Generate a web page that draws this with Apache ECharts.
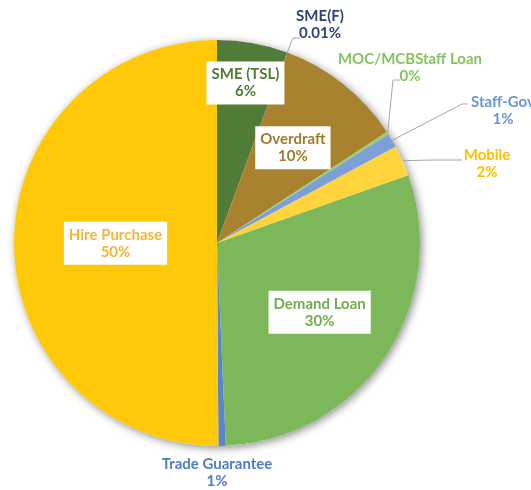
<!DOCTYPE html>
<html><head><meta charset="utf-8">
<script src="https://cdn.jsdelivr.net/npm/echarts@6/dist/echarts.min.js"></script>
<style>html,body{margin:0;padding:0;background:#fff}#c{width:531px;height:490px}</style>
</head><body><div id="c"></div>
<script>
// ---- data (clockwise from 12 o'clock) ----
const categories = ['SME (TSL)', 'SME(F)', 'Overdraft', 'MOC/MCBStaff Loan', 'Staff-Gov', 'Mobile', 'Demand Loan', 'Trade Guarantee', 'Hire Purchase'];
const shares = [5.61, 0.01, 10.17, 0.2, 1.14, 2.45, 29.72, 0.58, 50.1];

// ---- style ----
const sliceColors = ['#507C37', '#2F4B7C', '#A8822F', '#98CC70', '#7D9FD7', '#FFD43C', '#7CB85A', '#5A86C8', '#FFC90A'];
const textColors  = ['#4F7B35', '#2F4479', '#A07A2D', '#86C35E', '#6A95D8', '#FFC000', '#70AE4C', '#4F7CC8', '#F5B53A'];
const isInside    = [true, false, true, false, false, false, true, false, true];
const insideFrac  = [0.80, 0, 0.60, 0, 0, 0, 0.61, 0, 0.50];
// outside label centres and leader-line elbow/end points (layout only)
const outsideLayout = {
  1: { pos: [320, 25], line: [[293, 38], [300, 38]] },
  3: { pos: [410, 68], line: [[393, 80], [400, 80]] },
  4: { pos: [503, 111], line: [[462, 104], [468, 104]] },
  5: { pos: [487, 164], line: [[432, 160], [462, 160]] },
  7: { pos: [217, 473], line: null }
};
const CX = 217, CY = 243, R = 203;
const FONT = 'Lato';

const total = shares.reduce((a, b) => a + b, 0);
const midAngles = [];
let acc = 0;
shares.forEach(v => { midAngles.push((acc + v / 2) / total * 2 * Math.PI); acc += v; });
const pctText = v => (v < 0.1 ? v.toFixed(2) : String(Math.round(v))) + '%';

const data = categories.map((name, i) => {
  const inside = isInside[i];
  return {
    name, value: shares[i],
    itemStyle: { color: sliceColors[i] },
    label: inside ? {
      position: 'inside',
      formatter: name + '\n' + pctText(shares[i]),
      color: textColors[i],
      backgroundColor: '#ffffff',
      padding: [5, 5, 4, 5]
    } : {
      position: 'outside',
      formatter: name + '\n' + pctText(shares[i]),
      color: textColors[i]
    },
    labelLine: { show: !inside && !!(outsideLayout[i] && outsideLayout[i].line) }
  };
});

const chart = echarts.init(document.getElementById('c'), null, { renderer: 'canvas' });
chart.setOption({
  animation: false,
  backgroundColor: '#ffffff',
  series: [
    {
      type: 'pie', silent: true, z: 1,
      center: [CX, CY], radius: R,
      data: [{ value: 1, itemStyle: { color: '#ffffff', shadowBlur: 8, shadowOffsetX: 2, shadowOffsetY: 2, shadowColor: 'rgba(0,0,0,0.45)' } }],
      label: { show: false }, labelLine: { show: false }
    },
    {
      type: 'pie', z: 2,
      center: [CX, CY], radius: R,
      startAngle: 90, clockwise: true,
      avoidLabelOverlap: false,
      minAngle: 0,
      itemStyle: { borderWidth: 0 },
      label: {
        show: true, fontFamily: FONT, fontWeight: 'bold', fontSize: 15, lineHeight: 17, align: 'center'
      },
      labelLine: { show: true, length: 10, length2: 10, lineStyle: { color: '#A6A6A6', width: 1 } },
      data,
      labelLayout: function (params) {
        const i = params.dataIndex;
        if (params.seriesIndex !== 1) return {};
        const a = midAngles[i];
        if (isInside[i]) {
          return {
            x: CX + insideFrac[i] * R * Math.sin(a),
            y: CY - insideFrac[i] * R * Math.cos(a),
            align: 'center', verticalAlign: 'middle'
          };
        }
        const o = outsideLayout[i];
        const res = { x: o.pos[0], y: o.pos[1], align: 'center', verticalAlign: 'middle' };
        if (o.line) {
          const edge = [CX + R * Math.sin(a), CY - R * Math.cos(a)];
          res.labelLinePoints = [edge, o.line[0], o.line[1]];
        }
        return res;
      }
    }
  ]
});
</script>
</body></html>
